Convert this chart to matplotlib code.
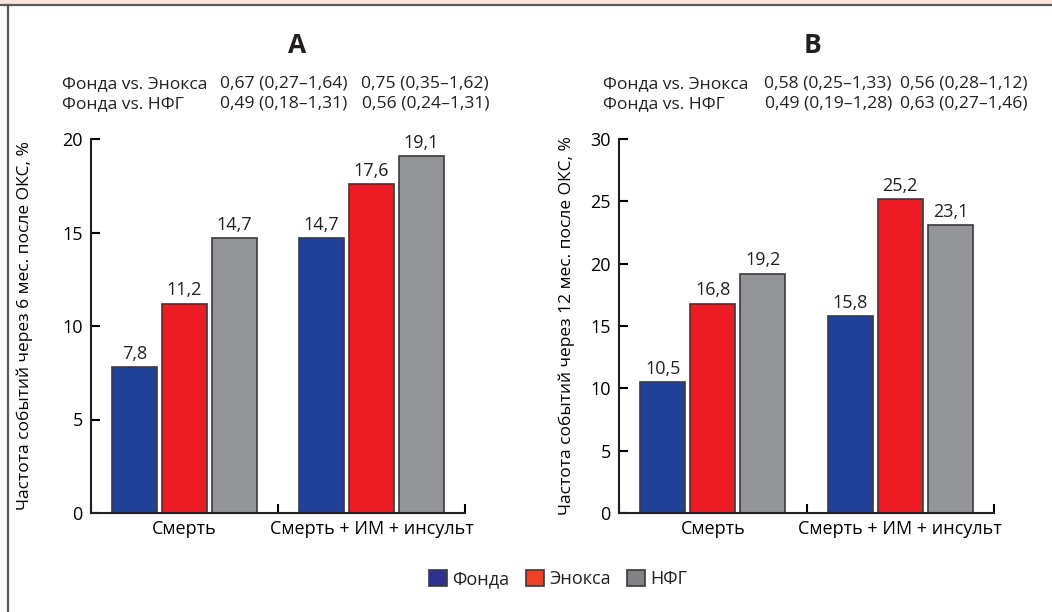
import matplotlib.pyplot as plt
from matplotlib.patches import Rectangle, Patch
from matplotlib.lines import Line2D
import numpy as np

plt.rcParams["font.family"] = ["Open Sans", "DejaVu Sans"]
plt.rcParams["font.size"] = 12
plt.rcParams["text.color"] = "#231f20"

# данные
categories = ["Смерть", "Смерть + ИМ + инсульт"]
series = ["Фонда", "Энокса", "НФГ"]
a_fonda = [7.8, 14.7]
a_enoxa = [11.2, 17.6]
a_nfg = [14.7, 19.1]
b_fonda = [10.5, 15.8]
b_enoxa = [16.8, 25.2]
b_nfg = [19.2, 23.1]

a_rows = [["Фонда vs. Энокса", "0,67 (0,27–1,64)", "0,75 (0,35–1,62)"],
          ["Фонда vs. НФГ", "0,49 (0,18–1,31)", "0,56 (0,24–1,31)"]]
b_rows = [["Фонда vs. Энокса", "0,58 (0,25–1,33)", "0,56 (0,28–1,12)"],
          ["Фонда vs. НФГ", "0,49 (0,19–1,28)", "0,63 (0,27–1,46)"]]

colors = ["#21409a", "#ed1c24", "#939598"]
edge = "#3a3a3a"
W, H = 1052, 612

fig = plt.figure(figsize=(W / 100, H / 100), dpi=100)

# рамка
fig.add_artist(Rectangle((0, 1 - 4 / H), 1, 4 / H, transform=fig.transFigure,
                         facecolor="#fde6da", edgecolor="none"))
fig.add_artist(Line2D([0, 1], [1 - 4.5 / H, 1 - 4.5 / H], transform=fig.transFigure,
                      color="#5a5a5a", lw=1.6))
fig.add_artist(Line2D([7.5 / W, 7.5 / W], [0, 1 - 4.5 / H], transform=fig.transFigure,
                      color="#5a5a5a", lw=1.6))


def panel(left_px, right_px, data, ymax, ylabel, labx):
    ax = fig.add_axes([left_px / W, 1 - 513 / H, (right_px - left_px) / W, (513 - 139) / H])
    x = np.array([0.5, 1.5])
    step = 0.267
    for i, vals in enumerate(data):
        bars = ax.bar(x + (i - 1) * step, vals, width=0.24, color=colors[i],
                      edgecolor=edge, linewidth=1.2)
        ax.bar_label(bars, labels=[f"{v:.1f}".replace(".", ",") for v in vals],
                     padding=3, fontsize=13)
    ax.set_xlim(0, 2)
    ax.set_ylim(0, ymax)
    ax.set_yticks(np.arange(0, ymax + 1, 5))
    ax.set_xticks([0, 1, 2])
    ax.set_xticklabels([])
    ax.set_xticks(x, minor=True)
    ax.set_xticklabels(categories, minor=True)
    ax.tick_params(axis="x", which="minor", length=0, pad=5, labelsize=13)
    ax.tick_params(axis="x", which="major", direction="in", length=6.5, width=1.5)
    ax.tick_params(axis="y", direction="in", length=6.5, width=1.5, pad=6, labelsize=13)
    for s in ["top", "right"]:
        ax.spines[s].set_visible(False)
    for s in ["left", "bottom"]:
        ax.spines[s].set_linewidth(1.5)
        ax.spines[s].set_color("#231f20")
    ax.set_ylabel(ylabel, fontsize=12.5)
    ax.yaxis.set_label_coords(labx, 0.5)
    return ax


panel(91, 465, [a_fonda, a_enoxa, a_nfg], 20,
      "Частота событий через 6 мес. после ОКС, %", -0.155)
panel(619, 994, [b_fonda, b_enoxa, b_nfg], 30,
      "Частота событий через 12 мес. после ОКС, %", -0.117)

# заголовки и отношения рисков
fig.text(297 / W, 1 - 53 / H, "A", ha="center", va="baseline", fontsize=19, fontweight="bold")
fig.text(812 / W, 1 - 53 / H, "B", ha="center", va="baseline", fontsize=19, fontweight="bold")

for rows, x0, c1, c2 in [(a_rows, 62, 347, 489), (b_rows, 603, 892, 1027)]:
    for j, r in enumerate(rows):
        yb = 1 - (88 + 20 * j) / H
        fig.text(x0 / W, yb, r[0], ha="left", va="baseline", fontsize=12.6)
        fig.text(c1 / W, yb, r[1], ha="right", va="baseline", fontsize=12.6)
        fig.text(c2 / W, yb, r[2], ha="right", va="baseline", fontsize=12.6)

handles = [Patch(facecolor=c, edgecolor=edge, linewidth=1.2) for c in ["#2e3192", "#ef4123", "#808285"]]
fig.legend(handles, series, loc="center", bbox_to_anchor=(558 / W, 1 - 579 / H), ncol=3,
           frameon=False, handlelength=1.0, handleheight=1.0, handletextpad=0.3,
           columnspacing=0.9, fontsize=13)

plt.savefig("out.png", dpi=100)
plt.close("all")
